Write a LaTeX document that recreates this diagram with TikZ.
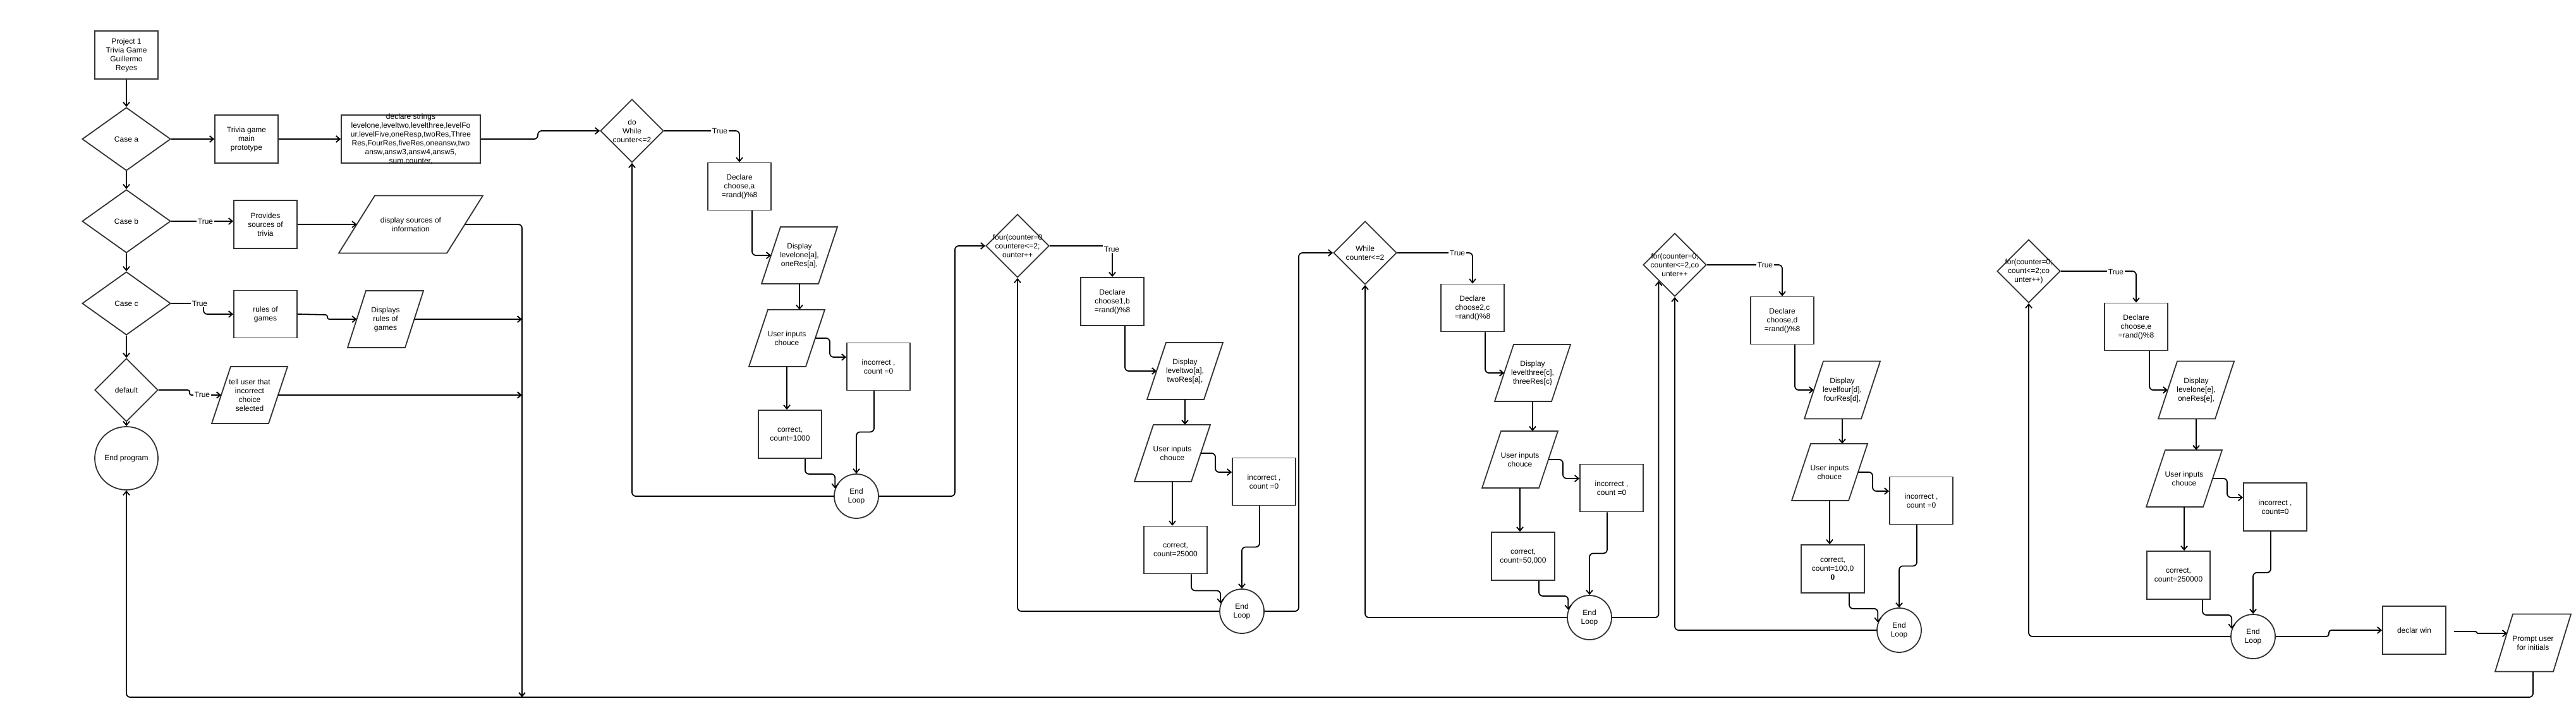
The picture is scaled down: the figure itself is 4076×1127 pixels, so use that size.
\documentclass[tikz,border=0pt]{standalone}
\usepackage{fontspec}
\setmainfont{Liberation Sans}
\usetikzlibrary{shapes.geometric,arrows.meta,calc}
\definecolor{ln}{HTML}{333333}
\tikzset{
 shapeline/.style={draw=ln, line width=1.8pt},
 box/.style={shapeline, rectangle, minimum width=100pt, minimum height=76pt, inner sep=0pt},
 dia/.style={shapeline, diamond, minimum width=100pt, minimum height=100pt, inner sep=0pt},
 circ/.style={shapeline, circle, minimum size=70pt, inner sep=0pt},
 pbase/.style={rectangle, inner sep=0pt, outer sep=0pt},
 txt/.style={align=center, font=\fontsize{12pt}{14pt}\selectfont, inner sep=0pt, text=black},
 conn/.style={draw=black, line width=1.8pt, rounded corners=6pt, -{Straight Barb[length=6pt,width=10pt]}},
 tlab/.style={fill=white, inner sep=1.5pt, font=\fontsize{12pt}{14pt}\selectfont},
}
\newcommand\mk[4]{\node[#1] (#2) at (#3) {}; \node[txt] (#2t) at (#2.center) {#4};}
\newcommand\pmk[6]{\node[pbase,minimum width=#3pt,minimum height=#4pt] (#1) at (#2) {};
 \draw[shapeline] ($(#1.south west)+(-#5/2,0)$) -- ($(#1.north west)+(#5/2,0)$) -- ($(#1.north east)+(#5/2,0)$) -- ($(#1.south east)+(-#5/2,0)$) -- cycle;
 \node[txt] (#1t) at (#1.center) {#6};}
\begin{document}
\begin{tikzpicture}[x=1pt,y=-1pt]
\useasboundingbox (0,0) rectangle (4076,1127);
\fill[white] (0,0) rectangle (4076,1127);
% left column
\mk{box}{proj}{200,87}{Project 1\\Trivia Game\\Guillermo\\Reyes}
\mk{dia,minimum width=140pt}{ca}{200,220}{Case a}
\mk{dia,minimum width=140pt}{cb}{200,350}{Case b}
\mk{dia,minimum width=140pt}{cc}{200,480}{Case c}
\mk{dia}{df}{200,617}{default}
\mk{circ,minimum size=100pt}{endp}{200,725}{End program}
\mk{box}{main}{390,220}{Trivia game\\main\\prototype}
\mk{box,minimum width=220pt}{decl}{650,220}{declare strings\\levelone,leveltwo,levelthree,levelFo\\ur,levelFive,oneResp,twoRes,Three\\Res,FourRes,fiveRes,oneansw,two\\answ,answ3,answ4,answ5,\\sum,counter,}
\mk{box}{prov}{420,355}{Provides\\sources of\\trivia}
\pmk{dsrc}{650,355}{171}{91}{57}{display sources of\\information}
\mk{box,minimum height=75pt}{rules}{420,497}{rules of\\games}
\pmk{drul}{610,505}{91}{90}{29}{Displays\\rules of\\games}
\pmk{tell}{395,625}{90}{90}{30}{tell user that\\incorrect\\choice\\selected}
\coordinate (vb) at (826,1103);
% loop 1
\mk{dia}{dw}{1000,207}{do\\While\\counter<=2}
\mk{box,minimum height=75pt}{dca}{1170,295}{Declare\\choose,a\\=rand()\%8}
\pmk{dp1}{1265,404}{90}{90}{30}{Display\\levelone[a],\\oneRes[a],}
\pmk{ui1}{1245,535}{90}{90}{30}{User inputs\\chouce}
\mk{box,minimum height=75pt}{inc1}{1390,580}{incorrect ,\\count =0}
\mk{box}{cor1}{1250,687}{correct,\\count=1000}
\mk{circ}{el1}{1355,785}{End\\Loop}
% loop 2
\mk{dia}{f2}{1610,389}{four(counter=0\\countere<=2;\\ounter++}
\mk{box}{dcb}{1760,477}{Declare\\choose1,b\\=rand()\%8}
\pmk{dp2}{1875,587}{90}{90}{30}{Display\\leveltwo[a],\\twoRes[a],}
\pmk{ui2}{1855,717}{90}{90}{30}{User inputs\\chouce}
\mk{box,minimum height=75pt}{inc2}{2000,762}{incorrect ,\\count =0}
\mk{box,minimum height=75pt}{cor2}{1860,870}{correct,\\count=25000}
\mk{circ}{el2}{1965,967}{End\\Loop}
% loop 3
\mk{dia}{wh}{2160,400}{While\\counter<=2}
\mk{box,minimum height=75pt}{dcc}{2330,487}{Declare\\choose2,c\\=rand()\%8}
\pmk{dp3}{2425,590}{90}{90}{30}{Display\\levelthree[c],\\threeRes[c\}}
\pmk{ui3}{2405,727}{90}{90}{30}{User inputs\\chouce}
\mk{box,minimum height=75pt}{inc3}{2550,772}{incorrect ,\\count =0}
\mk{box}{cor3}{2410,880}{correct,\\count=50,000}
\mk{circ}{el3}{2515,977}{End\\Loop}
% loop 4
\mk{dia}{f4}{2650,419}{for(counter=0;\\counter<=2,co\\unter++}
\mk{box,minimum height=75pt}{dcd}{2820,507}{Declare\\choose,d\\=rand()\%8}
\pmk{dp4}{2915,617}{90}{91}{30}{Display\\levelfour[d],\\fourRes[d],}
\pmk{ui4}{2895,747}{90}{90}{30}{User inputs\\chouce}
\mk{box,minimum height=75pt}{inc4}{3040,792}{incorrect ,\\count =0}
\mk{box}{cor4}{2900,900}{correct,\\count=100,0\\\textbf{0}}
\mk{circ}{el4}{3005,997}{End\\Loop}
% loop 5
\mk{dia}{f5}{3210,429}{for(counter=0;\\count<=2;co\\unter++)}
\mk{box,minimum height=75pt}{dce}{3380,517}{Declare\\choose,e\\=rand()\%8}
\pmk{dp5}{3475,617}{90}{91}{30}{Display\\levelone[e],\\oneRes[e],}
\pmk{ui5}{3456,757}{90}{90}{30}{User inputs\\chouce}
\mk{box}{inc5}{3600,802}{incorrect ,\\count=0}
\mk{box}{cor5}{3447,910}{correct,\\count=250000}
\mk{circ}{el5}{3565,1007}{End\\Loop}
\mk{box}{win}{3820,997}{declar win}
\pmk{prm}{4008,1017}{92}{91}{28}{Prompt user\\for initials}
% connectors left part
\draw[conn] (proj.south) -- (ca.north);
\draw[conn] (ca.south) -- (cb.north);
\draw[conn] (cb.south) -- (cc.north);
\draw[conn] (cc.south) -- (df.north);
\draw[conn] (df.south) -- (endp.north);
\draw[conn] (ca.east) -- (main.west);
\draw[conn] (main.east) -- (decl.west);
\draw[conn] (decl.east) -- (851,220) |- (dw.west);
\draw[conn] (cb.east) -- (cb.east -| prov.west);
\draw[conn] (prov.east) -- (dsrc.west);
\draw[conn] (dsrc.east) -| (vb);
\draw[conn] (cc.east) -- (322,480) |- (rules.west);
\draw[conn,rounded corners=3pt] (rules.east) -- (518,498) |- (drul.west);
\draw[conn] (drul.east) -- (drul.east -| vb);
\draw[conn,rounded corners=3pt] (df.east) -- (300,617) |- (tell.west);
\draw[conn] (tell.east) -- (tell.east -| vb);
\draw[conn] (prm.south) |- (endp.south |- vb) -- (endp.south);
% loop 1
\draw[conn] (dw.east) -| (dca.north);
\draw[conn] ($(dca.south)+(20,0)$) |- (dp1.west);
\draw[conn] (dp1.south) -- (dp1.south |- ui1.north);
\draw[conn] (ui1.east) -- ++(23,0) |- ($(inc1.west)+(0,-15)$);
\draw[conn] (ui1.south) -- (ui1.south |- cor1.north);
\draw[conn] ($(inc1.south)+(-7,0)$) -- ++(0,65) -| (el1.north);
\draw[conn] ($(cor1.south)+(24,0)$) -- ++(0,24) -| (el1.160);
\draw[conn] (el1.west) -| (dw.south);
\draw[conn] (el1.east) -- ++(120,0) |- (f2.west);
% loop 2
\draw[conn] (f2.east) -| (dcb.north);
\draw[conn] ($(dcb.south)+(20,0)$) |- (dp2.west);
\draw[conn] (dp2.south) -- (dp2.south |- ui2.north);
\draw[conn] (ui2.east) -- ++(23,0) |- ($(inc2.west)+(0,-15)$);
\draw[conn] (ui2.south) -- (ui2.south |- cor2.north);
\draw[conn] ($(inc2.south)+(-7,0)$) -- ++(0,65) -| (el2.north);
\draw[conn] ($(cor2.south)+(25,0)$) -- ++(0,26) -| (el2.160);
\draw[conn] (el2.west) -| (f2.south);
\draw[conn] (el2.east) -- ++(54,0) |- (wh.west);
% loop 3
\draw[conn] (wh.east) -| (dcc.north);
\draw[conn] ($(dcc.south)+(20,0)$) |- (dp3.west);
\draw[conn] (dp3.south) -- (dp3.south |- ui3.north);
\draw[conn] (ui3.east) -- ++(23,0) |- ($(inc3.west)+(0,-15)$);
\draw[conn] (ui3.south) -- (ui3.south |- cor3.north);
\draw[conn] ($(inc3.south)+(-7,0)$) -- ++(0,65) -| (el3.north);
\draw[conn] ($(cor3.south)+(25,0)$) -- ++(0,24) -| (el3.160);
\draw[conn] (el3.west) -| (wh.south);
\draw[conn] (el3.east) -| (f4.south west);
% loop 4
\draw[conn] (f4.east) -| (dcd.north);
\draw[conn] ($(dcd.south)+(20,0)$) |- (dp4.west);
\draw[conn] (dp4.south) -- (dp4.south |- ui4.north);
\draw[conn] (ui4.east) -- ++(23,0) |- ($(inc4.west)+(0,-15)$);
\draw[conn] (ui4.south) -- (ui4.south |- cor4.north);
\draw[conn] ($(inc4.south)+(-7,0)$) -- ++(0,65) -| (el4.north);
\draw[conn] ($(cor4.south)+(26,0)$) -- ++(0,24) -| (el4.160);
\draw[conn] (el4.west) -| (f4.south);
% loop 5
\draw[conn] (f5.east) -| (dce.north);
\draw[conn] ($(dce.south)+(21,0)$) |- (dp5.west);
\draw[conn] (dp5.south) -- (dp5.south |- ui5.north);
\draw[conn] (ui5.east) -- ++(23,0) |- ($(inc5.west)+(0,-15)$);
\draw[conn] (ui5.south) -- (ui5.south |- cor5.north);
\draw[conn] ($(inc5.south)+(-7,0)$) -- ++(0,65) -| (el5.north);
\draw[conn] ($(cor5.south)+(38,0)$) -- ++(0,24) -| (el5.160);
\draw[conn] (el5.west) -| (f5.south);
\draw[conn,rounded corners=4pt] (el5.east) -- ++(84,0) |- (win.west);
\draw[conn,rounded corners=1.5pt] ($(win.east)+(12,2)$) -- ++(36,0) |- ($(prm.west)+(5,-15)$);
% True labels
\node[tlab] (t1) at (325,350) {True};
\node[tlab] (t2) at (316,480) {True};
\node[tlab] (t3) at (320,624) {True};
\node[tlab] (t4) at (1139,207) {True};
\node[tlab] (t5) at (1759,394) {True};
\node[tlab] (t6) at (2306,400) {True};
\node[tlab] (t7) at (2793,419) {True};
\node[tlab] (t8) at (3348,430) {True};
\end{tikzpicture}
\end{document}
